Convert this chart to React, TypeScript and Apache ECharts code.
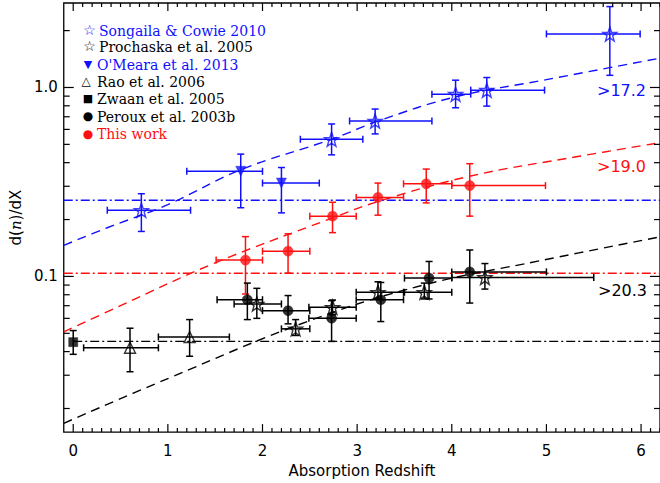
import React, { useEffect, useRef } from 'react';
import * as echarts from 'echarts';

// ---------- axes ----------
const xMin = -0.1;
const xMax = 6.2;
const yMin = 0.015;
const yMax = 2.8;
const xTickLabels = [0, 1, 2, 3, 4, 5, 6];
const yMajorTicks = [0.1, 1];
const yMinorTicks = [0.02, 0.03, 0.04, 0.05, 0.06, 0.07, 0.08, 0.09, 0.2, 0.3, 0.4, 0.5, 0.6, 0.7, 0.8, 0.9, 2];

// ---------- Songaila & Cowie 2010 (blue open stars) ----------
const scZ = [0.72, 2.73, 3.19, 4.04, 4.37, 5.67];
const scZlo = [0.36, 2.40, 2.92, 3.79, 4.20, 5.00];
const scZhi = [1.24, 3.06, 3.79, 4.20, 4.98, 5.99];
const scY = [0.224, 0.532, 0.665, 0.922, 0.968, 1.92];
const scYlo = [0.173, 0.44, 0.568, 0.781, 0.797, 1.16];
const scYhi = [0.274, 0.641, 0.769, 1.093, 1.129, 2.68];

// ---------- O'Meara et al. 2013 (blue filled down triangles) ----------
const omZ = [1.77, 2.20];
const omZlo = [1.20, 2.00];
const omZhi = [2.00, 2.60];
const omY = [0.36, 0.312];
const omYlo = [0.231, 0.217];
const omYhi = [0.444, 0.377];

// ---------- This work (red filled circles) ----------
const twZ = [1.82, 2.27, 2.74, 3.22, 3.73, 4.19];
const twZlo = [1.51, 2.00, 2.50, 2.99, 3.49, 4.00];
const twZhi = [2.00, 2.50, 2.99, 3.49, 4.00, 4.99];
const twY = [0.122, 0.136, 0.2085, 0.262, 0.309, 0.3025];
const twYlo = [0.0807, 0.104, 0.1705, 0.211, 0.245, 0.2085];
const twYhi = [0.1624, 0.168, 0.247, 0.312, 0.370, 0.395];

// ---------- Zwaan et al. 2005 (black filled square) ----------
const zwZ = [0.0];
const zwY = [0.0449];
const zwYlo = [0.0387];
const zwYhi = [0.0517];

// ---------- Rao et al. 2006 (black open triangles) ----------
const raoZ = [0.60, 1.23];
const raoZlo = [0.11, 0.90];
const raoZhi = [0.90, 1.65];
const raoY = [0.0419, 0.0478];
const raoYlo = [0.0313, 0.0378];
const raoYhi = [0.0532, 0.0591];

// ---------- Prochaska et al. 2005 (black open stars) ----------
const prZ = [1.94, 2.35, 2.74, 3.22, 3.71, 4.35];
const prZlo = [1.70, 2.20, 2.49, 2.99, 3.50, 4.00];
const prZhi = [2.20, 2.50, 2.99, 3.49, 4.00, 5.50];
const prY = [0.0715, 0.0528, 0.0687, 0.0824, 0.0824, 0.0988];
const prYlo = [0.060, 0.0487, 0.0626, 0.076, 0.076, 0.0857];
const prYhi = [0.0865, 0.0591, 0.075, 0.0937, 0.0922, 0.117];

// ---------- Peroux et al. 2003b (black filled circles) ----------
const peZ = [1.84, 2.27, 2.73, 3.25, 3.76, 4.19];
const peZlo = [1.52, 2.00, 2.49, 2.99, 3.50, 4.00];
const peZhi = [2.00, 2.50, 2.99, 3.49, 4.00, 5.00];
const peY = [0.0753, 0.0659, 0.0601, 0.0753, 0.098, 0.1057];
const peYlo = [0.0591, 0.0561, 0.0453, 0.0577, 0.076, 0.0723];
const peYhi = [0.0922, 0.0792, 0.0744, 0.0929, 0.120, 0.138];

// ---------- model curves (dashed) ----------
const blueCurveZ = [-0.1, 0.36, 1.0, 1.77, 2.73, 3.23, 4.04, 5.0, 6.2];
const blueCurveY = [0.146, 0.181, 0.24, 0.367, 0.532, 0.667, 0.892, 1.1, 1.43];
const redCurveZ = [-0.1, 0.5, 1.5, 2.70, 3.23, 4.2, 5.33, 6.2];
const redCurveY = [0.0509, 0.070, 0.118, 0.2005, 0.25, 0.34, 0.431, 0.51];
const blackCurveZ = [-0.1, 1.0, 2.5, 3.7, 4.93, 6.2];
const blackCurveY = [0.0167, 0.0288, 0.0584, 0.09, 0.121, 0.162];

// ---------- horizontal reference levels (dash-dot) ----------
const blueLevel = 0.253;
const redLevel = 0.104;
const blackLevel = 0.0453;

// ---------- texts ----------
const legendNames = [
  'Songaila & Cowie 2010',
  'Prochaska et al. 2005',
  "O'Meara et al. 2013",
  'Rao et al. 2006',
  'Zwaan et al. 2005',
  'Peroux et al. 2003b',
  'This work',
];
const thresholdLabels = ['>17.2', '>19.0', '>20.3'];

const BLUE = '#1010ff';
const RED = '#ff1010';
const BLACK = '#000000';

const STAR =
  'path://M0,-10 L2.35,-3.24 L9.51,-3.09 L3.8,1.24 L5.88,8.09 L0,4.1 L-5.88,8.09 L-3.8,1.24 L-9.51,-3.09 L-2.35,-3.24 Z';

function errorBars(color: string, z: number[], zlo: number[] | null, zhi: number[] | null, y: number[], ylo: number[], yhi: number[]) {
  const data = z.map((v, i) => [v, y[i], zlo ? zlo[i] : v, zhi ? zhi[i] : v, ylo[i], yhi[i]]);
  return {
    type: 'custom',
    coordinateSystem: 'cartesian2d',
    silent: true,
    z: 3,
    clip: false,
    encode: { x: 0, y: 1 },
    data,
    renderItem: (params: any, api: any) => {
      const x = api.value(0);
      const yv = api.value(1);
      const c = api.coord([x, yv]);
      const l = api.coord([api.value(2), yv]);
      const r = api.coord([api.value(3), yv]);
      const b = api.coord([x, api.value(4)]);
      const t = api.coord([x, api.value(5)]);
      const cap = 3.5;
      const style = { stroke: color, lineWidth: 1.5, fill: null };
      const children: any[] = [];
      if (r[0] - l[0] > 0.5) {
        children.push({ type: 'line', shape: { x1: l[0], y1: c[1], x2: r[0], y2: c[1] }, style });
        children.push({ type: 'line', shape: { x1: l[0], y1: c[1] - cap, x2: l[0], y2: c[1] + cap }, style });
        children.push({ type: 'line', shape: { x1: r[0], y1: c[1] - cap, x2: r[0], y2: c[1] + cap }, style });
      }
      children.push({ type: 'line', shape: { x1: c[0], y1: t[1], x2: c[0], y2: b[1] }, style });
      children.push({ type: 'line', shape: { x1: c[0] - cap, y1: t[1], x2: c[0] + cap, y2: t[1] }, style });
      children.push({ type: 'line', shape: { x1: c[0] - cap, y1: b[1], x2: c[0] + cap, y2: b[1] }, style });
      return { type: 'group', children };
    },
  };
}

function markers(name: string, z: number[], y: number[], symbol: string, size: number, color: string, filled: boolean, rotate = 0) {
  return {
    type: 'scatter',
    name,
    z: 4,
    symbol,
    symbolSize: size,
    symbolRotate: rotate,
    silent: true,
    data: z.map((v, i) => [v, y[i]]),
    itemStyle: filled
      ? { color, borderColor: color, borderWidth: 0.5 }
      : { color: 'rgba(255,255,255,0)', borderColor: color, borderWidth: 1.4 },
  };
}

function curve(z: number[], y: number[], color: string) {
  return {
    type: 'line',
    z: 2,
    silent: true,
    smooth: 0.4,
    symbol: 'none',
    data: z.map((v, i) => [v, y[i]]),
    lineStyle: { color, width: 1.4, type: [9, 6] },
  };
}

function level(v: number, color: string, from: number) {
  return {
    type: 'line',
    z: 2,
    silent: true,
    symbol: 'none',
    data: [
      [from, v],
      [xMax, v],
    ],
    lineStyle: { color, width: 1.4, type: [9, 3, 2, 3] },
  };
}

function xTicksSeries() {
  const vals: number[][] = [];
  for (let i = 0; i <= 62; i++) {
    const v = i / 10;
    vals.push([v, i % 10 === 0 ? 8 : 4]);
  }
  return {
    type: 'custom',
    coordinateSystem: 'cartesian2d',
    silent: true,
    clip: false,
    z: 5,
    encode: { x: 0 },
    data: vals,
    renderItem: (params: any, api: any) => {
      const cs = params.coordSys;
      const x = api.coord([api.value(0), 1])[0];
      const len = api.value(1);
      const style = { stroke: '#000', lineWidth: 1.2 };
      return {
        type: 'group',
        children: [
          { type: 'line', shape: { x1: x, y1: cs.y + cs.height, x2: x, y2: cs.y + cs.height - len }, style },
          { type: 'line', shape: { x1: x, y1: cs.y, x2: x, y2: cs.y + len }, style },
        ],
      };
    },
  };
}

function yTicksSeries() {
  const vals = [
    ...yMajorTicks.map((v) => [0, v, 10]),
    ...yMinorTicks.map((v) => [0, v, 6]),
  ];
  return {
    type: 'custom',
    coordinateSystem: 'cartesian2d',
    silent: true,
    clip: false,
    z: 5,
    encode: { y: 1 },
    data: vals,
    renderItem: (params: any, api: any) => {
      const cs = params.coordSys;
      const y = api.coord([1, api.value(1)])[1];
      const len = api.value(2);
      const style = { stroke: '#000', lineWidth: 1.2 };
      return {
        type: 'group',
        children: [
          { type: 'line', shape: { x1: cs.x, y1: y, x2: cs.x + len, y2: y }, style },
          { type: 'line', shape: { x1: cs.x + cs.width, y1: y, x2: cs.x + cs.width - len, y2: y }, style },
        ],
      };
    },
  };
}

export default function App() {
  const ref = useRef<HTMLDivElement>(null);
  useEffect(() => {
    if (!ref.current) return;
    const chart = echarts.init(ref.current, null, { renderer: 'svg' });

    const legendSyms = [
      { s: '☆', x: 89.5, size: 14, color: BLUE, tx: 99 },
      { s: '☆', x: 89.5, size: 14, color: BLACK, tx: 99 },
      { s: '▼', x: 88, size: 11, color: BLUE, tx: 97 },
      { s: '△', x: 86, size: 12, color: BLACK, tx: 97 },
      { s: '■', x: 88, size: 11, color: BLACK, tx: 97 },
      { s: '●', x: 88, size: 12, color: BLACK, tx: 97 },
      { s: '●', x: 88, size: 12, color: RED, tx: 97 },
    ];
    const legendY = [30, 46, 64.5, 81, 98.5, 116, 133.5];
    const legendColors = [BLUE, BLACK, BLUE, BLACK, BLACK, BLACK, RED];

    const graphic: any[] = [];
    legendNames.forEach((name, i) => {
      const sy = legendSyms[i];
      graphic.push({
        type: 'text',
        x: sy.x,
        y: legendY[i],
        style: { text: sy.s, fill: sy.color, font: `${sy.size}px "DejaVu Sans"`, align: 'center', verticalAlign: 'middle' },
      });
      graphic.push({
        type: 'text',
        x: sy.tx,
        y: legendY[i] + 0.5,
        style: { text: name, fill: legendColors[i], font: '14px "DejaVu Serif"', align: 'left', verticalAlign: 'middle' },
      });
    });
    const thrPos = [
      { x: 597, y: 90, c: BLUE },
      { x: 597, y: 166, c: RED },
      { x: 598, y: 290, c: BLACK },
    ];
    thresholdLabels.forEach((t, i) => {
      graphic.push({
        type: 'text',
        x: thrPos[i].x,
        y: thrPos[i].y,
        style: { text: t, fill: thrPos[i].c, font: '16px "DejaVu Sans"', align: 'left', verticalAlign: 'middle' },
      });
    });

    chart.setOption({
      animation: false,
      backgroundColor: '#ffffff',
      grid: {
        left: 63,
        right: -2,
        top: 3,
        bottom: 50,
        show: true,
        borderColor: '#000',
        borderWidth: 1.3,
        backgroundColor: 'transparent',
      },
      xAxis: {
        type: 'value',
        min: xMin,
        max: xMax,
        axisLine: { show: false },
        axisTick: { show: false },
        splitLine: { show: false },
        axisLabel: {
          customValues: xTickLabels,
          formatter: (v: number) => (Math.abs(v - Math.round(v)) < 1e-9 ? String(Math.round(v)) : ''),
          color: '#000',
          fontFamily: 'DejaVu Sans',
          fontSize: 15,
          margin: 11,
        },
        name: 'Absorption Redshift',
        nameLocation: 'middle',
        nameGap: 27,
        nameTextStyle: { color: '#000', fontFamily: 'DejaVu Sans', fontSize: 15 },
      },
      yAxis: {
        type: 'log',
        logBase: 10,
        min: yMin,
        max: yMax,
        axisLine: { show: false },
        axisTick: { show: false },
        splitLine: { show: false },
        minorTick: { show: false },
        axisLabel: {
          showMinLabel: false,
          showMaxLabel: false,
          formatter: (v: number) => (Math.abs(v - 1) < 1e-6 ? '1.0' : Math.abs(v - 0.1) < 1e-7 ? '0.1' : ''),
          color: '#000',
          fontFamily: 'DejaVu Sans',
          fontSize: 15,
          margin: 6,
        },
        name: '{a|d(}{i|n}{a|)/dX}',
        nameLocation: 'middle',
        nameRotate: 90,
        nameGap: 40,
        nameTextStyle: {
          color: '#000',
          rich: {
            a: { fontFamily: 'DejaVu Sans', fontSize: 15, color: '#000' },
            i: { fontFamily: 'DejaVu Serif', fontStyle: 'italic', fontSize: 15, color: '#000' },
          },
        },
      },
      series: [
        level(blueLevel, BLUE, xMin),
        level(redLevel, RED, xMin),
        level(blackLevel, BLACK, 0),
        curve(blueCurveZ, blueCurveY, BLUE),
        curve(redCurveZ, redCurveY, RED),
        curve(blackCurveZ, blackCurveY, BLACK),
        errorBars(BLUE, scZ, scZlo, scZhi, scY, scYlo, scYhi),
        errorBars(BLUE, omZ, omZlo, omZhi, omY, omYlo, omYhi),
        errorBars(RED, twZ, twZlo, twZhi, twY, twYlo, twYhi),
        errorBars(BLACK, zwZ, null, null, zwY, zwYlo, zwYhi),
        errorBars(BLACK, raoZ, raoZlo, raoZhi, raoY, raoYlo, raoYhi),
        errorBars(BLACK, prZ, prZlo, prZhi, prY, prYlo, prYhi),
        errorBars(BLACK, peZ, peZlo, peZhi, peY, peYlo, peYhi),
        markers(legendNames[0], scZ, scY, STAR, 14, BLUE, false),
        markers(legendNames[2], omZ, omY, 'triangle', 10, BLUE, true, 180),
        markers(legendNames[6], twZ, twY, 'circle', 10, RED, true),
        markers(legendNames[4], zwZ, zwY, 'rect', 9, BLACK, true),
        markers(legendNames[3], raoZ, raoY, 'triangle', 11, BLACK, false),
        markers(legendNames[1], prZ, prY, STAR, 14, BLACK, false),
        markers(legendNames[5], peZ, peY, 'circle', 10, BLACK, true),
        xTicksSeries(),
        yTicksSeries(),
      ],
      graphic,
    });
    return () => chart.dispose();
  }, []);
  return <div ref={ref} style={{ position: 'fixed', left: 0, top: 0, width: 660, height: 483 }} />;
}
